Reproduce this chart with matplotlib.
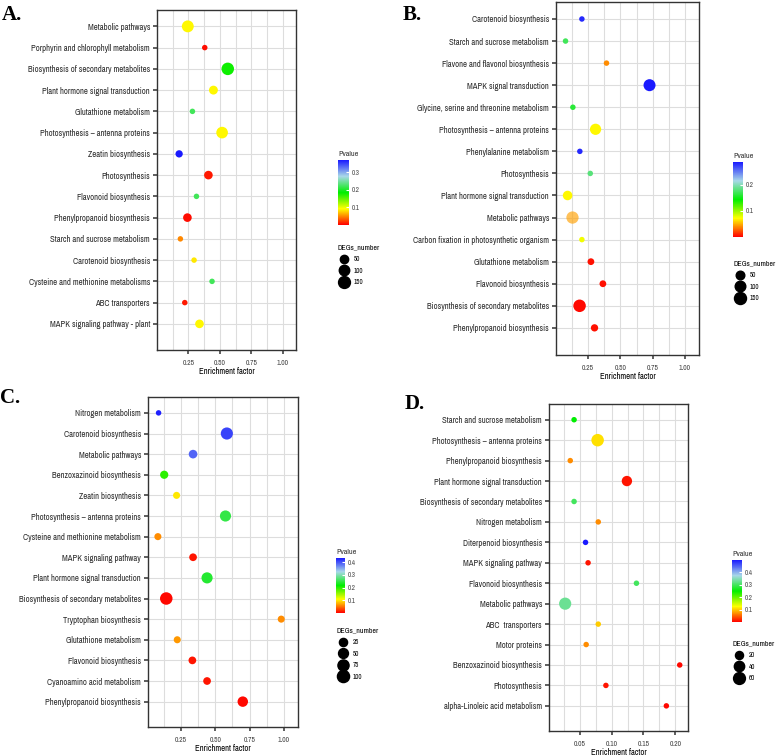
import numpy as np
import matplotlib
matplotlib.use("Agg")
import matplotlib.pyplot as plt
from matplotlib.colors import LinearSegmentedColormap
from matplotlib.lines import Line2D

plt.rcParams['font.family'] = ['Archivo Narrow', 'DejaVu Sans']

# --- data (top category first) ---
a_terms = ["Metabolic pathways", "Porphyrin and chlorophyll metabolism",
           "Biosynthesis of secondary metabolites", "Plant hormone signal transduction",
           "Glutathione metabolism", "Photosynthesis \u2013 antenna proteins",
           "Zeatin biosynthesis", "Photosynthesis", "Flavonoid biosynthesis",
           "Phenylpropanoid biosynthesis", "Starch and sucrose metabolism",
           "Carotenoid biosynthesis", "Cysteine and methionine metabolisms",
           "ABC transporters", "MAPK signaling pathway - plant"]
a_enrich = [0.245, 0.38, 0.563, 0.449, 0.282, 0.518, 0.176, 0.409, 0.314,
            0.242, 0.186, 0.295, 0.438, 0.221, 0.338]
a_pval = [0.09, 0.005, 0.18, 0.09, 0.22, 0.09, 0.37, 0.01, 0.22,
          0.005, 0.05, 0.085, 0.22, 0.01, 0.09]
a_degs = [150, 25, 175, 60, 25, 140, 35, 55, 25, 55, 25, 25, 25, 25, 55]

b_terms = ["Carotenoid biosynthesis", "Starch and sucrose metabolism",
           "Flavone and flavonol biosynthesis", "MAPK signal transduction",
           "Glycine, serine and threonine metabolism", "Photosynthesis \u2013 antenna proteins",
           "Phenylalanine metabolism", "Photosynthesis", "Plant hormone signal transduction",
           "Metabolic pathways", "Carbon fixation in photosynthetic organism",
           "Glutathione metabolism", "Flavonoid biosynthesis",
           "Biosynthesis of secondary metabolites", "Phenylpropanoid biosynthesis"]
b_enrich = [0.201, 0.074, 0.392, 0.726, 0.131, 0.307, 0.185, 0.266, 0.090,
            0.128, 0.201, 0.271, 0.364, 0.183, 0.299]
b_pval = [0.28, 0.17, 0.04, 0.285, 0.16, 0.07, 0.28, 0.18, 0.07,
          0.045, 0.075, 0.005, 0.005, 0.003, 0.005]
b_degs = [20, 20, 20, 150, 20, 120, 20, 20, 70, 160, 20, 25, 25, 170, 30]

c_terms = ["Nitrogen metabolism", "Carotenoid biosynthesis", "Metabolic pathways",
           "Benzoxazinoid biosynthesis", "Zeatin biosynthesis",
           "Photosynthesis \u2013 antenna proteins", "Cysteine and methionine metabolism",
           "MAPK signaling pathway", "Plant hormone signal transduction",
           "Biosynthesis of secondary metabolites", "Tryptophan biosynthesis",
           "Glutathione metabolism", "Flavonoid biosynthesis",
           "Cyanoamino acid metabolism", "Phenylpropanoid biosynthesis"]
c_enrich = [0.087, 0.584, 0.338, 0.128, 0.218, 0.574, 0.082, 0.338, 0.440,
            0.143, 0.980, 0.223, 0.333, 0.440, 0.700]
c_pval = [0.43, 0.41, 0.39, 0.2, 0.1, 0.25, 0.06, 0.01, 0.24,
          0.005, 0.06, 0.065, 0.01, 0.01, 0.005]
c_degs = [10, 100, 30, 25, 15, 75, 15, 20, 75, 110, 15, 15, 20, 20, 60]

d_terms = ["Starch and sucrose metabolism", "Photosynthesis \u2013 antenna proteins",
           "Phenylpropanoid biosynthesis", "Plant hormone signal transduction",
           "Biosynthesis of secondary metabolites", "Nitrogen metabolism",
           "Diterpenoid biosynthesis", "MAPK signaling pathway", "Flavonoid biosynthesis",
           "Metabolic pathways", "ABC  transporters", "Motor proteins",
           "Benzoxazinoid biosynthesis", "Photosynthesis", "alpha-Linoleic acid metabolism"]
d_enrich = [0.041, 0.078, 0.035, 0.124, 0.041, 0.079, 0.059, 0.063, 0.139,
            0.027, 0.079, 0.060, 0.207, 0.091, 0.186]
d_pval = [0.25, 0.11, 0.07, 0.01, 0.3, 0.07, 0.5, 0.01, 0.3,
          0.33, 0.1, 0.07, 0.005, 0.01, 0.005]
d_degs = [12, 70, 12, 40, 12, 12, 12, 12, 12, 65, 12, 12, 12, 12, 12]

W, H = 778, 756
fig = plt.figure(figsize=(W / 100, H / 100), dpi=100)

cmap = LinearSegmentedColormap.from_list(
    "pv", ["#ff0000", "#ffff00", "#00ee00", "#a8d8e8", "#1a1aff"])


def rect(x0, y0, x1, y1):
    return [x0 / W, 1 - y1 / H, (x1 - x0) / W, (y1 - y0) / H]


def diam(n, lo, hi):
    frac = np.clip((np.asarray(n, float) - lo) / (hi - lo), 0, 1)
    return (5.5 + 7.0 * np.sqrt(frac)) * 0.72  # points


def panel(letter, terms, enrich, pval, degs, box, xlim, xticks, xminor, pmax, pticks,
          cbar_box, size_breaks, size_anchor, letter_xy, alphas=None):
    ax = fig.add_axes(rect(*box))
    n = len(terms)
    y = np.arange(n)[::-1]
    lo, hi = min(degs), max(degs)
    sizes = diam(degs, lo, hi) ** 2
    sc = ax.scatter(enrich, y, s=sizes, c=pval, cmap=cmap, vmin=0, vmax=pmax,
                    alpha=alphas, edgecolors='none', zorder=3)
    ax.set_xlim(*xlim)
    ax.set_ylim(-1.23, n - 0.23)
    ax.set_yticks(y)
    ax.set_yticklabels(terms, fontsize=6.2, color='#2b2b2b')
    ax.set_xticks(xticks)
    ax.set_xticklabels(["%.2f" % t for t in xticks], fontsize=5.5, color='#444444')
    ax.set_xticks(xminor, minor=True)
    ax.tick_params(axis='both', which='major', length=3, width=1.1, color='#333333', pad=2)
    ax.tick_params(axis='x', which='minor', length=0)
    ax.tick_params(axis='x', pad=4)
    ax.grid(True, which='both', axis='x', color='#dddddd', lw=0.8, zorder=0)
    ax.grid(True, which='major', axis='y', color='#dddddd', lw=0.8, zorder=0)
    ax.set_axisbelow(True)
    for sp in ax.spines.values():
        sp.set_color('#333333')
        sp.set_linewidth(1.0)
    ax.set_xlabel("Enrichment factor", fontsize=6.2, fontweight='bold', labelpad=1)

    cax = fig.add_axes(rect(*cbar_box))
    cb = fig.colorbar(sc, cax=cax, ticks=pticks)
    cb.outline.set_visible(False)
    cax.tick_params(labelsize=5, length=2, color='white', direction='in', pad=2,
                    labelcolor='#444444')
    cax.set_title("Pvalue", fontsize=5.8, loc='left', pad=3, color='#333333')

    handles = [Line2D([], [], ls='none', marker='o', color='black',
                      markersize=diam(b, lo, hi)) for b in size_breaks]
    fig.legend(handles, [str(b) for b in size_breaks], title="DEGs_number",
               loc='upper left', bbox_to_anchor=(size_anchor[0] / W, 1 - size_anchor[1] / H),
               frameon=False, fontsize=5, title_fontsize=5.6, labelspacing=0.8,
               handletextpad=0.3, handlelength=2.0, borderpad=0, alignment='left')

    fig.text(letter_xy[0] / W, 1 - letter_xy[1] / H, letter, fontsize=15,
             fontweight='bold', family='Liberation Serif', va='top', ha='left')


panel("A.", a_terms, a_enrich, a_pval, a_degs, (157, 10, 296, 350), (0.0, 1.106),
      [0.25, 0.5, 0.75, 1.0], [0.125, 0.375, 0.625, 0.875], 0.37, [0.1, 0.2, 0.3],
      (338, 160, 349, 225), [50, 100, 150], (334, 241), (2, 5))

b_alpha = [1.0] * 9 + [0.65] + [1.0] * 5
panel("B.", b_terms, b_enrich, b_pval, b_degs, (556, 2, 699, 355), (0.0, 1.11),
      [0.25, 0.5, 0.75, 1.0], [0.125, 0.375, 0.625, 0.875], 0.286, [0.1, 0.2],
      (733, 162, 743, 237), [50, 100, 150], (730, 257), (403, 5), alphas=b_alpha)

panel("C.", c_terms, c_enrich, c_pval, c_degs, (148, 397, 298, 727), (0.01, 1.102),
      [0.25, 0.5, 0.75, 1.0], [0.125, 0.375, 0.625, 0.875], 0.434, [0.1, 0.2, 0.3, 0.4],
      (336, 558, 345, 613), [25, 50, 75, 100], (333, 624), (0, 388))

panel("D.", d_terms, d_enrich, d_pval, d_degs, (549, 404, 688, 731), (0.0016, 0.22),
      [0.05, 0.10, 0.15, 0.20], [0.025, 0.075, 0.125, 0.175], 0.5, [0.1, 0.2, 0.3, 0.4],
      (732, 560, 742, 622), [20, 40, 60], (729, 637), (405, 394))

fig.savefig("out.png", dpi=100, facecolor='white')
